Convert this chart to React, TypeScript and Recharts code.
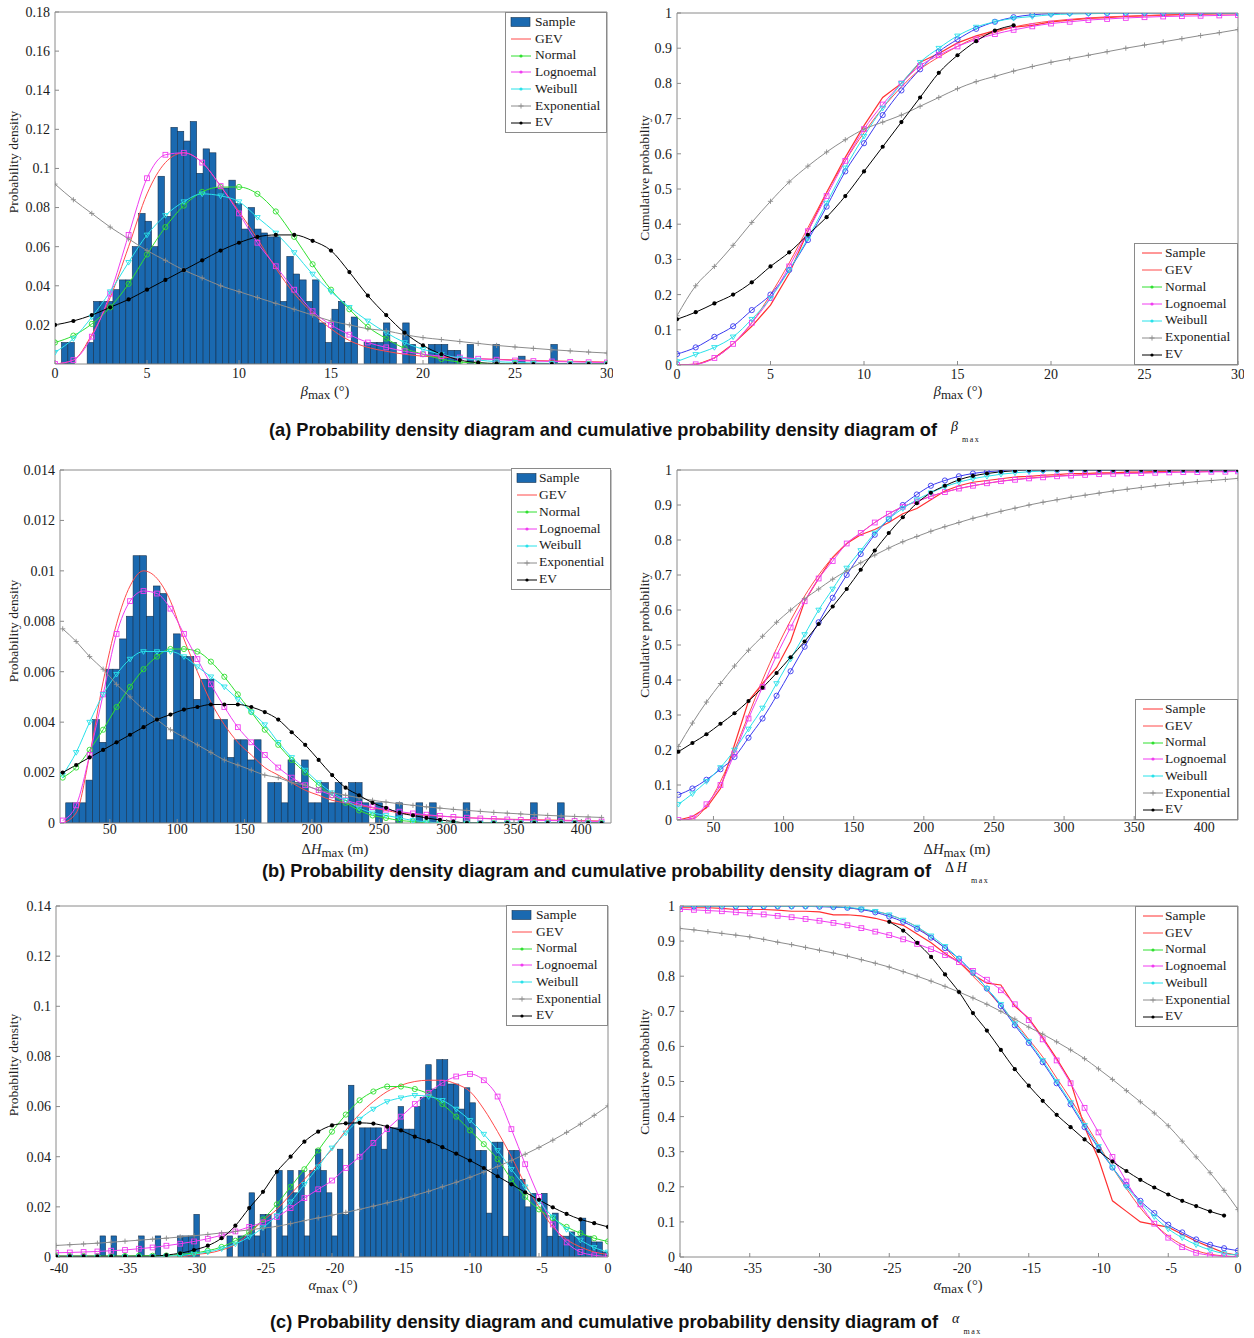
import React from 'react'
import { ComposedChart, Bar, Line, XAxis, YAxis } from 'recharts'

// ---------- (a) beta_max ----------
const aX = [0, 1, 2, 3, 4, 5, 6, 7, 8, 9, 10, 11, 12, 13, 14, 15, 16, 17, 18, 19, 20, 21, 22, 23, 24, 25, 26, 27, 28, 29, 30]
const aHistStart = 0
const aHistWidth = 0.35
const aHist = [
  0, 0.011, 0.011, 0, 0, 0.011, 0.032, 0.032, 0.032, 0.038,
  0.043, 0.043, 0.06, 0.077, 0.073, 0.06, 0.096, 0.0755, 0.121, 0.119,
  0.114, 0.124, 0.0975, 0.11, 0.108, 0.09, 0.09, 0.094, 0.082, 0.069,
  0.08, 0.069, 0.067, 0.065, 0.065, 0.032, 0.055, 0.046, 0.043, 0.032,
  0.043, 0.021, 0.011, 0.028, 0.032, 0.011, 0.024, 0, 0.011, 0.011,
  0.011, 0.021, 0.011, 0, 0.021, 0.01, 0, 0, 0.01, 0.01,
  0.01, 0.007, 0.007, 0, 0.01, 0, 0, 0, 0.01, 0,
  0, 0, 0.004, 0, 0, 0, 0, 0.01, 0, 0,
  0, 0, 0, 0, 0, 0,
]
const aGevPdf = [0, 0.002, 0.015, 0.034, 0.06, 0.087, 0.103, 0.108, 0.103, 0.091, 0.078, 0.064, 0.049, 0.036, 0.026, 0.018, 0.012, 0.0085, 0.0065, 0.005, 0.004, 0.0035, 0.003, 0.0027, 0.0024, 0.0021, 0.0018, 0.0016, 0.0014, 0.0012, 0.001]
const aNormPdf = [0.011, 0.0145, 0.0205, 0.029, 0.041, 0.056, 0.07, 0.081, 0.088, 0.0905, 0.0905, 0.087, 0.078, 0.065, 0.051, 0.038, 0.028, 0.019, 0.013, 0.008, 0.005, 0.0025, 0.001, 0.0005, 0.0002, 0.0001, 0, 0, 0, 0, 0]
const aLogPdf = [0, 0.002, 0.014, 0.036, 0.066, 0.095, 0.107, 0.108, 0.103, 0.091, 0.077, 0.062, 0.05, 0.038, 0.027, 0.02, 0.015, 0.011, 0.0085, 0.0065, 0.005, 0.004, 0.0033, 0.0027, 0.0022, 0.0018, 0.0015, 0.0013, 0.0011, 0.0009, 0.0008]
const aWeiPdf = [0.006, 0.013, 0.024, 0.037, 0.052, 0.066, 0.076, 0.083, 0.087, 0.086, 0.083, 0.075, 0.067, 0.057, 0.046, 0.037, 0.029, 0.022, 0.016, 0.011, 0.0075, 0.005, 0.003, 0.002, 0.0012, 0.0008, 0.0005, 0.0003, 0.0002, 0.0001, 0.0001]
const aExpPdf = [0.092, 0.084, 0.077, 0.07, 0.064, 0.058, 0.053, 0.048, 0.044, 0.04, 0.037, 0.034, 0.031, 0.028, 0.025, 0.022, 0.02, 0.018, 0.017, 0.015, 0.0135, 0.0125, 0.0115, 0.0105, 0.0095, 0.0087, 0.008, 0.0073, 0.0067, 0.0061, 0.0056]
const aEvPdf = [0.02, 0.022, 0.025, 0.029, 0.033, 0.038, 0.043, 0.048, 0.053, 0.058, 0.062, 0.065, 0.066, 0.066, 0.063, 0.058, 0.047, 0.035, 0.025, 0.016, 0.0095, 0.005, 0.002, 0.0007, 0.0002, 0, 0, 0, 0, 0, 0]

const aSampleCdf = [0, 0, 0.02, 0.06, 0.11, 0.17, 0.26, 0.38, 0.49, 0.59, 0.68, 0.76, 0.8, 0.86, 0.885, 0.915, 0.935, 0.95, 0.96, 0.965, 0.975, 0.98, 0.985, 0.987, 0.99, 0.992, 0.994, 0.996, 0.998, 0.999, 1]
const aGevCdf = [0, 0.003, 0.02, 0.06, 0.12, 0.2, 0.29, 0.39, 0.49, 0.58, 0.66, 0.73, 0.79, 0.84, 0.875, 0.905, 0.93, 0.945, 0.96, 0.97, 0.977, 0.982, 0.986, 0.989, 0.991, 0.993, 0.994, 0.995, 0.996, 0.997, 0.997]
const aNormCdf = [0.031, 0.05, 0.08, 0.11, 0.156, 0.2, 0.27, 0.355, 0.45, 0.55, 0.63, 0.71, 0.78, 0.84, 0.89, 0.925, 0.955, 0.975, 0.988, 0.995, 0.998, 1, 1, 1, 1, 1, 1, 1, 1, 1, 1]
const aLogCdf = [0, 0.002, 0.02, 0.06, 0.12, 0.19, 0.28, 0.38, 0.48, 0.58, 0.67, 0.74, 0.8, 0.85, 0.88, 0.905, 0.925, 0.94, 0.952, 0.962, 0.97, 0.975, 0.98, 0.983, 0.986, 0.988, 0.99, 0.991, 0.992, 0.993, 0.994]
const aWeiCdf = [0.01, 0.03, 0.05, 0.08, 0.13, 0.19, 0.27, 0.36, 0.46, 0.56, 0.65, 0.73, 0.8, 0.86, 0.9, 0.935, 0.96, 0.975, 0.985, 0.99, 0.995, 0.997, 0.998, 0.999, 1, 1, 1, 1, 1, 1, 1]
const aExpCdf = [0.14, 0.225, 0.28, 0.34, 0.405, 0.465, 0.52, 0.565, 0.605, 0.64, 0.67, 0.69, 0.71, 0.735, 0.76, 0.785, 0.805, 0.82, 0.835, 0.848, 0.86, 0.87, 0.88, 0.89, 0.9, 0.909, 0.918, 0.927, 0.936, 0.944, 0.953]
const aEvCdf = [0.13, 0.15, 0.175, 0.2, 0.235, 0.28, 0.32, 0.37, 0.42, 0.48, 0.55, 0.62, 0.69, 0.76, 0.83, 0.88, 0.92, 0.95, 0.965, null, null, null, null, null, null, null, null, null, null, null, null]

// ---------- (b) delta H_max ----------
const bX = [15, 25, 35, 45, 55, 65, 75, 85, 95, 105, 115, 125, 135, 145, 155, 165, 175, 185, 195, 205, 215, 225, 235, 245, 255, 265, 275, 285, 295, 305, 315, 325, 335, 345, 355, 365, 375, 385, 395, 405, 415]
const bHistStart = 17.5
const bHistWidth = 5
const bHist = [
  0.0008, 0.0008, 0.0008, 0.0017, 0.0041, 0.0032, 0.0061, 0.0061, 0.0073, 0.0082,
  0.0106, 0.0106, 0.0082, 0.0094, 0.0091, 0.0033, 0.0075, 0.0066, 0.0066, 0.0049,
  0.0057, 0.0057, 0.0041, 0.0041, 0.0026, 0.0033, 0.0033, 0.0025, 0.0033, 0,
  0.0016, 0.0016, 0.0008, 0.0025, 0.0016, 0.0025, 0.0008, 0.0008, 0.0016, 0.0008,
  0.0016, 0.0008, 0.0016, 0.0016, 0.0008, 0, 0.0008, 0, 0, 0.0008,
  0, 0, 0.0008, 0, 0.0008, 0, 0, 0, 0, 0.0008,
  0, 0, 0, 0, 0, 0, 0, 0, 0, 0.0008,
  0, 0, 0, 0.0008, 0, 0, 0, 0, 0, 0, 0,
]
const bGevPdf = [0, 0.0004, 0.0027, 0.0056, 0.0079, 0.0094, 0.01, 0.0097, 0.0088, 0.0073, 0.006, 0.0048, 0.0039, 0.0032, 0.0027, 0.0022, 0.0019, 0.0016, 0.0013, 0.0011, 0.0009, 0.0008, 0.0007, 0.0006, 0.0005, 0.0004, 0.00035, 0.0003, 0.00027, 0.00024, 0.00021, 0.00019, 0.00017, 0.00015, 0.00014, 0.00013, 0.00012, 0.00011, 0.0001, 0.00009, 0.00008]
const bNormPdf = [0.0018, 0.0022, 0.0029, 0.0037, 0.0046, 0.0054, 0.0061, 0.0066, 0.0069, 0.0069, 0.0068, 0.0064, 0.0058, 0.0051, 0.0044, 0.0037, 0.0031, 0.0025, 0.002, 0.0015, 0.0011, 0.0008, 0.0005, 0.0003, 0.0002, 0.0001, 0.00006, 0, 0, 0, 0, 0, 0, 0, 0, 0, 0, 0, 0, 0, 0]
const bLogPdf = [0.0001, 0.0007, 0.0027, 0.0051, 0.0075, 0.0088, 0.0092, 0.0091, 0.0085, 0.0075, 0.0065, 0.0055, 0.0046, 0.0038, 0.0032, 0.0027, 0.0022, 0.0018, 0.0015, 0.0013, 0.0011, 0.0009, 0.00075, 0.00063, 0.00053, 0.00045, 0.00038, 0.00033, 0.00028, 0.00024, 0.00021, 0.00018, 0.00016, 0.00014, 0.00012, 0.00011, 0.0001, 0.00009, 0.00008, 0.00007, 0.00006]
const bWeiPdf = [0.0019, 0.0028, 0.004, 0.0051, 0.0059, 0.0065, 0.0068, 0.0068, 0.0068, 0.0066, 0.0062, 0.0058, 0.0054, 0.0049, 0.0044, 0.0039, 0.0032, 0.0026, 0.0021, 0.0016, 0.0012, 0.0009, 0.0006, 0.0004, 0.0003, 0.0002, 0.0001, 0.00005, 0, 0, 0, 0, 0, 0, 0, 0, 0, 0, 0, 0, 0]
const bExpPdf = [0.0077, 0.0072, 0.0066, 0.0061, 0.0055, 0.005, 0.0045, 0.0041, 0.0037, 0.0034, 0.0031, 0.0028, 0.0025, 0.0023, 0.0021, 0.0019, 0.0018, 0.0016, 0.0015, 0.0013, 0.0012, 0.0011, 0.001, 0.0009, 0.00083, 0.00076, 0.0007, 0.00064, 0.00059, 0.00054, 0.0005, 0.00046, 0.00042, 0.00039, 0.00036, 0.00033, 0.0003, 0.00028, 0.00026, 0.00024, 0.00022]
const bEvPdf = [0.002, 0.0023, 0.0026, 0.0029, 0.0032, 0.0035, 0.0038, 0.0041, 0.0043, 0.0045, 0.0046, 0.0047, 0.0047, 0.0047, 0.0046, 0.0044, 0.0041, 0.0036, 0.0031, 0.0025, 0.0019, 0.0014, 0.0011, 0.0008, 0.0006, 0.0004, 0.0003, 0.0002, 0.00012, 0.00006, 0, 0, 0, 0, 0, 0, 0, 0, 0, 0, 0]

const bcX = [25, 35, 45, 55, 65, 75, 85, 95, 105, 115, 125, 135, 145, 155, 165, 175, 185, 195, 205, 215, 225, 235, 245, 255, 265, 275, 285, 295, 305, 315, 325, 335, 345, 355, 365, 375, 385, 395, 405, 415, 424]
const bSampleCdf = [0, 0.01, 0.035, 0.09, 0.215, 0.34, 0.39, 0.435, 0.51, 0.625, 0.69, 0.75, 0.79, 0.815, 0.83, 0.85, 0.875, 0.89, 0.915, 0.94, 0.955, 0.965, 0.97, 0.975, 0.98, 0.982, 0.985, 0.987, 0.99, 0.99, 0.992, 0.992, 0.994, 0.994, 0.996, 0.996, 1, 1, 1, 1, 1]
const bGevCdf = [0, 0.003, 0.04, 0.11, 0.2, 0.3, 0.4, 0.49, 0.57, 0.64, 0.7, 0.75, 0.79, 0.82, 0.85, 0.875, 0.895, 0.91, 0.925, 0.937, 0.947, 0.955, 0.962, 0.968, 0.973, 0.977, 0.98, 0.983, 0.985, 0.987, 0.989, 0.99, 0.991, 0.992, 0.993, 0.994, 0.995, 0.995, 0.996, 0.996, 0.997]
const bNormCdf = [0.072, 0.09, 0.115, 0.145, 0.18, 0.235, 0.29, 0.355, 0.425, 0.495, 0.565, 0.635, 0.7, 0.76, 0.815, 0.86, 0.9, 0.93, 0.955, 0.97, 0.982, 0.99, 0.995, 0.998, 1, 1, 1, 1, 1, 1, 1, 1, 1, 1, 1, 1, 1, 1, 1, 1, 1]
const bLogCdf = [0, 0.005, 0.045, 0.1, 0.19, 0.29, 0.38, 0.47, 0.55, 0.625, 0.69, 0.74, 0.79, 0.82, 0.85, 0.875, 0.895, 0.91, 0.925, 0.937, 0.947, 0.955, 0.962, 0.968, 0.972, 0.976, 0.979, 0.982, 0.984, 0.986, 0.988, 0.989, 0.99, 0.991, 0.992, 0.993, 0.994, 0.994, 0.995, 0.995, 0.996]
const bWeiCdf = [0.045, 0.075, 0.11, 0.15, 0.2, 0.26, 0.32, 0.39, 0.46, 0.53, 0.6, 0.66, 0.72, 0.77, 0.82, 0.86, 0.89, 0.915, 0.935, 0.952, 0.965, 0.975, 0.982, 0.988, 0.992, 0.995, 0.997, 0.998, 0.999, 1, 1, 1, 1, 1, 1, 1, 1, 1, 1, 1, 1]
const bExpCdf = [0.21, 0.277, 0.337, 0.39, 0.44, 0.485, 0.525, 0.565, 0.6, 0.632, 0.66, 0.688, 0.712, 0.735, 0.757, 0.777, 0.795, 0.81, 0.825, 0.838, 0.85, 0.862, 0.872, 0.882, 0.891, 0.9, 0.908, 0.915, 0.922, 0.928, 0.934, 0.94, 0.945, 0.95, 0.955, 0.959, 0.963, 0.967, 0.97, 0.973, 0.976]
const bEvCdf = [0.195, 0.22, 0.245, 0.275, 0.305, 0.34, 0.378, 0.42, 0.465, 0.51, 0.56, 0.61, 0.66, 0.715, 0.77, 0.82, 0.865, 0.905, 0.935, 0.955, 0.972, 0.983, 0.99, 0.995, 0.998, 1, 1, 1, 1, 1, 1, 1, 1, 1, 1, 1, 1, 1, 1, 1, 1]

// ---------- (c) alpha_max ----------
const cX = [-40, -39, -38, -37, -36, -35, -34, -33, -32, -31, -30, -29, -28, -27, -26, -25, -24, -23, -22, -21, -20, -19, -18, -17, -16, -15, -14, -13, -12, -11, -10, -9, -8, -7, -6, -5, -4, -3, -2, -1, 0]
const cHistStart = -40
const cHistWidth = 0.4
const cHist = [
  0, 0, 0, 0, 0, 0, 0, 0, 0.0084, 0,
  0.0084, 0, 0, 0, 0, 0.0084, 0, 0, 0.0084, 0,
  0, 0, 0.0084, 0.0084, 0.0084, 0.017, 0, 0, 0, 0,
  0, 0.0084, 0, 0.0084, 0.0084, 0.0256, 0.0084, 0.017, 0.017, 0,
  0.0345, 0.0084, 0.0345, 0.0256, 0.0345, 0.0084, 0.0345, 0.043, 0.0345, 0.0256,
  0.0084, 0.043, 0.017, 0.0685, 0, 0.0515, 0.0515, 0.0515, 0.0515, 0.043,
  0.0515, 0.0515, 0.06, 0.051, 0.051, 0.06, 0.0636, 0.0767, 0.067, 0.0787,
  0.0787, 0.069, 0.069, 0.059, 0.0675, 0.0615, 0.0425, 0.0425, 0.0175, 0.0458,
  0.0458, 0.0083, 0.0425, 0.0425, 0.031, 0.02, 0.0254, 0, 0.0254, 0.0083,
  0.0175, 0.0083, 0.0083, 0.01, 0.0083, 0.0155, 0.0083, 0.006, 0.006, 0.002,
]
const cGevPdf = [0, 0, 0, 0, 0, 0, 0, 0, 0, 0, 0.001, 0.0015, 0.0028, 0.005, 0.0095, 0.0145, 0.019, 0.025, 0.031, 0.037, 0.043, 0.0505, 0.057, 0.062, 0.066, 0.0685, 0.07, 0.0705, 0.0705, 0.069, 0.066, 0.059, 0.05, 0.04, 0.029, 0.02, 0.012, 0.007, 0.004, 0.002, 0.001]
const cNormPdf = [0.0004, 0.0004, 0.0004, 0.0004, 0.0004, 0.0004, 0.0005, 0.0005, 0.0006, 0.001, 0.0016, 0.0025, 0.004, 0.0065, 0.01, 0.015, 0.021, 0.028, 0.035, 0.0425, 0.05, 0.0568, 0.0625, 0.066, 0.068, 0.068, 0.067, 0.065, 0.061, 0.056, 0.0505, 0.045, 0.039, 0.031, 0.024, 0.019, 0.0155, 0.012, 0.0095, 0.0075, 0.0062]
const cLogPdf = [0.0017, 0.0018, 0.002, 0.0022, 0.0025, 0.0028, 0.0033, 0.0038, 0.0045, 0.0053, 0.0062, 0.0073, 0.0087, 0.0102, 0.012, 0.0138, 0.016, 0.0195, 0.0235, 0.027, 0.0305, 0.0355, 0.04, 0.0455, 0.051, 0.056, 0.061, 0.0655, 0.0695, 0.072, 0.073, 0.0705, 0.064, 0.051, 0.037, 0.024, 0.013, 0.0058, 0.002, 0.0007, 0.0002]
const cWeiPdf = [0, 0, 0, 0, 0, 0.0001, 0.0001, 0.0002, 0.0003, 0.0006, 0.0012, 0.002, 0.0033, 0.0052, 0.008, 0.0117, 0.0165, 0.022, 0.029, 0.036, 0.0435, 0.0495, 0.055, 0.059, 0.062, 0.0635, 0.0645, 0.064, 0.0625, 0.059, 0.0545, 0.049, 0.0425, 0.035, 0.028, 0.022, 0.016, 0.011, 0.0068, 0.0038, 0.002]
const cExpPdf = [0.0046, 0.0049, 0.0052, 0.0055, 0.0059, 0.0063, 0.0067, 0.0071, 0.0075, 0.008, 0.0085, 0.009, 0.0096, 0.0102, 0.0108, 0.0115, 0.0122, 0.0133, 0.0145, 0.0156, 0.0167, 0.0178, 0.019, 0.0203, 0.0216, 0.023, 0.0246, 0.0262, 0.028, 0.0298, 0.0318, 0.0339, 0.0361, 0.0385, 0.041, 0.0437, 0.0466, 0.0497, 0.053, 0.0565, 0.0603]
const cEvPdf = [0.0003, 0.0003, 0.0003, 0.0003, 0.0003, 0.0003, 0.0003, 0.0003, 0.0008, 0.0015, 0.0028, 0.0045, 0.0075, 0.0125, 0.0195, 0.026, 0.034, 0.04, 0.046, 0.05, 0.0525, 0.0533, 0.0535, 0.0532, 0.052, 0.0505, 0.048, 0.0462, 0.0438, 0.0412, 0.0385, 0.0355, 0.0322, 0.029, 0.0258, 0.0228, 0.0198, 0.0172, 0.015, 0.0135, 0.012]

const cSampleCdf = [0.995, 0.995, 0.995, 0.993, 0.99, 0.99, 0.99, 0.988, 0.985, 0.985, 0.983, 0.975, 0.975, 0.972, 0.965, 0.955, 0.945, 0.92, 0.895, 0.865, 0.84, 0.805, 0.78, 0.775, 0.715, 0.68, 0.625, 0.565, 0.5, 0.37, 0.28, 0.16, 0.13, 0.1, 0.092, 0.085, 0.065, 0.045, 0.028, 0.012, 0.005]
const cGevCdf = [0.999, 0.999, 0.999, 0.999, 0.999, 0.999, 0.999, 0.999, 0.999, 0.999, 0.999, 0.998, 0.995, 0.99, 0.985, 0.975, 0.96, 0.94, 0.91, 0.88, 0.84, 0.8, 0.76, 0.715, 0.67, 0.62, 0.57, 0.51, 0.45, 0.385, 0.32, 0.255, 0.195, 0.14, 0.095, 0.06, 0.035, 0.018, 0.008, 0.003, 0.001]
const cNormCdf = [0.999, 0.999, 0.999, 0.999, 0.999, 0.999, 0.999, 0.999, 0.999, 0.999, 0.998, 0.997, 0.995, 0.99, 0.982, 0.97, 0.955, 0.935, 0.91, 0.88, 0.85, 0.81, 0.765, 0.715, 0.66, 0.61, 0.555, 0.495, 0.435, 0.37, 0.31, 0.255, 0.205, 0.16, 0.125, 0.092, 0.07, 0.05, 0.035, 0.025, 0.018]
const cLogCdf = [0.991, 0.989, 0.987, 0.985, 0.982, 0.979, 0.976, 0.972, 0.968, 0.963, 0.958, 0.952, 0.945, 0.937, 0.927, 0.917, 0.905, 0.892, 0.877, 0.86, 0.84, 0.815, 0.79, 0.76, 0.72, 0.675, 0.62, 0.56, 0.495, 0.425, 0.355, 0.285, 0.215, 0.15, 0.095, 0.055, 0.028, 0.012, 0.005, 0.002, 0.001]
const cWeiCdf = [0.999, 0.999, 0.999, 0.999, 0.999, 0.999, 0.999, 0.999, 0.999, 0.999, 0.999, 0.998, 0.996, 0.992, 0.985, 0.975, 0.96, 0.94, 0.915, 0.885, 0.85, 0.81, 0.765, 0.72, 0.665, 0.615, 0.56, 0.5, 0.44, 0.375, 0.315, 0.255, 0.2, 0.155, 0.115, 0.08, 0.055, 0.035, 0.02, 0.01, 0.005]
const cExpCdf = [0.936, 0.932, 0.927, 0.922, 0.917, 0.912, 0.905, 0.897, 0.89, 0.882, 0.874, 0.866, 0.857, 0.847, 0.837, 0.826, 0.813, 0.8, 0.786, 0.771, 0.755, 0.738, 0.72, 0.7, 0.678, 0.655, 0.635, 0.613, 0.59, 0.565, 0.536, 0.506, 0.474, 0.442, 0.41, 0.374, 0.33, 0.285, 0.24, 0.19, 0.135]
const cEvCdf = [null, null, null, null, null, null, null, null, null, null, null, null, null, null, null, 0.955, 0.93, 0.895, 0.855, 0.805, 0.755, 0.695, 0.645, 0.59, 0.535, 0.488, 0.445, 0.405, 0.37, 0.335, 0.302, 0.272, 0.245, 0.22, 0.198, 0.178, 0.16, 0.145, 0.13, 0.118, null]

// ---------- styling ----------
const SERIF = '"Liberation Serif", "Times New Roman", Times, serif'
const SANS = '"Liberation Sans", Arial, Helvetica, sans-serif'
const AXIS = '#8a8a8a'
const TICK_FONT = 14
const C = {
  bar: '#1a69b0',
  barEdge: '#16324f',
  sample: '#ff3030',
  gev: '#ff4a4a',
  normal: '#30e030',
  normalCdf: '#3a3af0',
  logn: '#f03cf0',
  weib: '#28e2ea',
  expo: '#8c8c8c',
  ev: '#000000',
}

type Marker = 'none' | 'circle' | 'square' | 'triangle' | 'plus' | 'dot'
type Series = { id: string; xs: number[]; ys: (number | null)[]; color: string; marker: Marker; width?: number; curve?: 'monotone' | 'linear' }
type Box = { left: number; top: number; right: number; bottom: number }
type Bins = { start: number; width: number; heights: number[] }

function drawMarker(marker: Marker, color: string, cx: number, cy: number, key?: React.Key) {
  switch (marker) {
    case 'circle':
      return <circle key={key} cx={cx} cy={cy} r={2.6} fill="none" stroke={color} strokeWidth={0.9} />
    case 'square':
      return <rect key={key} x={cx - 2.4} y={cy - 2.4} width={4.8} height={4.8} fill="none" stroke={color} strokeWidth={0.9} />
    case 'triangle':
      return <path key={key} d={`M${cx - 2.8},${cy - 1.8}L${cx + 2.8},${cy - 1.8}L${cx},${cy + 2.8}Z`} fill="none" stroke={color} strokeWidth={0.9} />
    case 'plus':
      return <path key={key} d={`M${cx - 2.6},${cy}H${cx + 2.6}M${cx},${cy - 2.6}V${cy + 2.6}`} stroke={color} strokeWidth={0.9} />
    case 'dot':
      return <circle key={key} cx={cx} cy={cy} r={2.1} fill={color} />
    default:
      return null
  }
}

const dotFn = (marker: Marker, color: string) => {
  if (marker === 'none') return false
  return (p: any) => {
    if (p.cx == null || p.cy == null || p.value == null || Number.isNaN(p.cy)) return <g key={p.index} />
    return drawMarker(marker, color, p.cx, p.cy, p.index)
  }
}

const barShape = (w: number) => (p: any) => {
  const { x, y, width, height } = p
  if (!height || height <= 0) return <g />
  const cx = x + width / 2
  return <rect x={cx - w / 2} y={y} width={w} height={height} fill={C.bar} stroke={C.barEdge} strokeWidth={0.6} />
}

// serif tick labels like the MATLAB figure; negative numbers are centred on their digits
const XTick = (p: any) => (
  <text x={p.x + (p.payload.value < 0 ? 3 : 0)} y={p.y} dy="0.71em" textAnchor="middle" fontFamily={SERIF} fontSize={TICK_FONT} fill="#1a1a1a">
    {String(p.payload.value)}
  </text>
)
const YTick = (p: any) => (
  <text x={p.x} y={p.y} dy="0.35em" textAnchor="end" fontFamily={SERIF} fontSize={TICK_FONT} fill="#1a1a1a">
    {String(p.payload.value)}
  </text>
)

function Plot({ box, xDomain, xTicks, yDomain, yTicks, bins, series, xTickMargin = 8 }: {
  box: Box; xDomain: [number, number]; xTicks: number[]; yDomain: [number, number]; yTicks: number[]; bins?: Bins; series: Series[]; xTickMargin?: number
}) {
  const YW = 50
  const XH = 30
  const M = 6
  const plotW = box.right - box.left
  const plotH = box.bottom - box.top
  const barData = bins ? bins.heights.map((h, i) => ({ x: bins.start + (i + 0.5) * bins.width, y: h })) : undefined
  const barW = bins ? (bins.width * plotW) / (xDomain[1] - xDomain[0]) : 0
  return (
    <div style={{ position: 'absolute', left: box.left - YW, top: box.top - M, fontFamily: SERIF }}>
      <ComposedChart width={plotW + YW + M} height={plotH + M + XH} data={barData} margin={{ top: M, right: M, bottom: 0, left: 0 }}>
        <XAxis dataKey="x" type="number" domain={xDomain} ticks={xTicks} allowDataOverflow interval={0} height={XH}
          tickSize={-4} tickMargin={xTickMargin} stroke={AXIS} tick={XTick} />
        <XAxis xAxisId="top" orientation="top" mirror type="number" domain={xDomain} ticks={xTicks} allowDataOverflow
          interval={0} tick={false} tickSize={4} stroke={AXIS} />
        <YAxis type="number" domain={yDomain} ticks={yTicks} allowDataOverflow interval={0} width={YW}
          tickSize={-4} tickMargin={9} stroke={AXIS} tick={YTick} />
        <YAxis yAxisId="right" orientation="right" mirror type="number" domain={yDomain} ticks={yTicks} allowDataOverflow
          interval={0} tick={false} tickSize={4} stroke={AXIS} />
        {bins && (
          <Bar dataKey="y" isAnimationActive={false} barSize={Math.max(1, barW)} shape={barShape(barW)} />
        )}
        {series.map((s) => (
          <Line
            key={s.id}
            data={s.xs.map((x, i) => ({ x, y: s.ys[i] }))}
            dataKey="y"
            type={s.curve ?? 'monotone'}
            stroke={s.color}
            strokeWidth={s.width ?? 1}
            dot={dotFn(s.marker, s.color)}
            activeDot={false}
            isAnimationActive={false}
          />
        ))}
      </ComposedChart>
    </div>
  )
}

type LegendItem = { label: string; color: string; marker: Marker; patch?: boolean }

const pdfLegend: LegendItem[] = [
  { label: 'Sample', color: C.bar, marker: 'none', patch: true },
  { label: 'GEV', color: C.gev, marker: 'none' },
  { label: 'Normal', color: C.normal, marker: 'dot' },
  { label: 'Lognoemal', color: C.logn, marker: 'dot' },
  { label: 'Weibull', color: C.weib, marker: 'dot' },
  { label: 'Exponential', color: C.expo, marker: 'plus' },
  { label: 'EV', color: C.ev, marker: 'dot' },
]
const cdfLegend: LegendItem[] = [
  { label: 'Sample', color: C.sample, marker: 'none' },
  { label: 'GEV', color: C.gev, marker: 'none' },
  { label: 'Normal', color: C.normal, marker: 'dot' },
  { label: 'Lognoemal', color: C.logn, marker: 'dot' },
  { label: 'Weibull', color: C.weib, marker: 'dot' },
  { label: 'Exponential', color: C.expo, marker: 'plus' },
  { label: 'EV', color: C.ev, marker: 'dot' },
]

function LegendBox({ left, top, width, height, items, iconLeft, textLeft }: {
  left: number; top: number; width: number; height: number; items: LegendItem[]; iconLeft: number; textLeft: number
}) {
  const rowH = (height - 4) / items.length
  return (
    <div style={{ position: 'absolute', left, top, width, height, border: `1px solid ${AXIS}`, background: '#fff', boxSizing: 'border-box' }}>
      {items.map((it, i) => (
        <div key={it.label} style={{ position: 'absolute', left: 0, top: 1 + i * rowH, height: rowH, width: '100%' }}>
          <svg style={{ position: 'absolute', left: iconLeft, top: rowH / 2 - 6 }} width={22} height={12}>
            {it.patch ? (
              <rect x={1} y={1.5} width={19} height={9} fill={C.bar} stroke={C.barEdge} strokeWidth={0.6} />
            ) : (
              <>
                <line x1={1} x2={21} y1={6} y2={6} stroke={it.color} strokeWidth={1} />
                {it.marker === 'dot' ? <circle cx={11} cy={6} r={1.6} fill={it.color} /> : drawMarker(it.marker, it.color, 11, 6)}
              </>
            )}
          </svg>
          <span style={{ position: 'absolute', left: textLeft, top: 0, lineHeight: `${rowH}px`, fontFamily: SERIF, fontSize: 13.5, color: '#1a1a1a', whiteSpace: 'nowrap' }}>
            {it.label}
          </span>
        </div>
      ))}
    </div>
  )
}

function XLabel({ cx, cy, prefix, sym, unit }: { cx: number; cy: number; prefix?: string; sym: string; unit: string }) {
  return (
    <div style={{ position: 'absolute', left: cx - 80, top: cy - 9, width: 160, height: 18, lineHeight: '18px', textAlign: 'center', fontFamily: SERIF, fontSize: 14.5, color: '#222', whiteSpace: 'nowrap' }}>
      {prefix}<i>{sym}</i><span style={{ fontSize: 13, position: 'relative', top: 3 }}>max</span> {unit}
    </div>
  )
}

function YLabel({ cx, cy, text }: { cx: number; cy: number; text: string }) {
  return (
    <div style={{ position: 'absolute', left: cx - 90, top: cy - 9, width: 180, height: 18, lineHeight: '18px', textAlign: 'center', transform: 'rotate(-90deg)', fontFamily: SERIF, fontSize: 13.5, color: '#222', whiteSpace: 'nowrap' }}>
      {text}
    </div>
  )
}

function Caption({ left, top, tag, prefix, sym }: { left: number; top: number; tag: string; prefix?: string; sym: string }) {
  return (
    <div style={{ position: 'absolute', left, top, fontFamily: SANS, fontWeight: 'bold', fontSize: 18.2, color: '#111', whiteSpace: 'nowrap' }}>
      ({tag}) Probability density diagram and cumulative probability density diagram of
      <span style={{ fontFamily: SERIF, fontWeight: 'normal', fontSize: 14, marginLeft: 14, position: 'relative', top: -5 }}>
        {prefix}<i>{sym}</i>
      </span>
      <span style={{ fontFamily: SERIF, fontWeight: 'normal', fontSize: 8, letterSpacing: 1.5, marginLeft: 4, position: 'relative', top: 6 }}>max</span>
    </div>
  )
}

const pdfSeries = (xs: number[], gev: number[], norm: number[], logn: number[], weib: number[], expo: number[], ev: number[]): Series[] => [
  { id: 'gev', xs, ys: gev, color: C.gev, marker: 'none', width: 1 },
  { id: 'norm', xs, ys: norm, color: C.normal, marker: 'circle' },
  { id: 'logn', xs, ys: logn, color: C.logn, marker: 'square' },
  { id: 'weib', xs, ys: weib, color: C.weib, marker: 'triangle' },
  { id: 'expo', xs, ys: expo, color: C.expo, marker: 'plus' },
  { id: 'ev', xs, ys: ev, color: C.ev, marker: 'dot' },
]

const cdfSeries = (xs: number[], sample: number[], gev: number[], norm: number[], logn: number[], weib: number[], expo: number[], ev: (number | null)[]): Series[] => [
  { id: 'sample', xs, ys: sample, color: C.sample, marker: 'none', width: 1.2, curve: 'linear' },
  { id: 'gev', xs, ys: gev, color: C.gev, marker: 'none', width: 1 },
  { id: 'norm', xs, ys: norm, color: C.normalCdf, marker: 'circle' },
  { id: 'logn', xs, ys: logn, color: C.logn, marker: 'square' },
  { id: 'weib', xs, ys: weib, color: C.weib, marker: 'triangle' },
  { id: 'expo', xs, ys: expo, color: C.expo, marker: 'plus' },
  { id: 'ev', xs, ys: ev, color: C.ev, marker: 'dot' },
]

const cdfTicks = [0, 0.1, 0.2, 0.3, 0.4, 0.5, 0.6, 0.7, 0.8, 0.9, 1]

export default function App() {
  return (
    <div style={{ position: 'absolute', left: 0, top: 0, width: 1254, height: 1338, background: '#fff', overflow: 'hidden' }}>
      {/* row (a) */}
      <Plot box={{ left: 55, top: 12, right: 607, bottom: 364 }} xDomain={[0, 30]} xTicks={[0, 5, 10, 15, 20, 25, 30]}
        yDomain={[0, 0.18]} yTicks={[0.02, 0.04, 0.06, 0.08, 0.1, 0.12, 0.14, 0.16, 0.18]}
        bins={{ start: aHistStart, width: aHistWidth, heights: aHist }}
        series={pdfSeries(aX, aGevPdf, aNormPdf, aLogPdf, aWeiPdf, aExpPdf, aEvPdf)} />
      <Plot box={{ left: 677, top: 13, right: 1238, bottom: 365 }} xDomain={[0, 30]} xTicks={[0, 5, 10, 15, 20, 25, 30]}
        yDomain={[0, 1]} yTicks={cdfTicks}
        series={cdfSeries(aX, aSampleCdf, aGevCdf, aNormCdf, aLogCdf, aWeiCdf, aExpCdf, aEvCdf)} />
      <LegendBox left={505} top={12} width={102} height={121} items={pdfLegend} iconLeft={4} textLeft={29} />
      <LegendBox left={1134} top={243} width={104} height={122} items={cdfLegend} iconLeft={6} textLeft={30} />
      <YLabel cx={14} cy={162} text="Probability density" />
      <YLabel cx={645} cy={178} text="Cumulative probability" />
      <XLabel cx={325} cy={391} sym="β" unit="(°)" />
      <XLabel cx={958} cy={391} sym="β" unit="(°)" />
      <Caption left={269} top={420} tag="a" sym="β" />

      {/* row (b) */}
      <Plot box={{ left: 60, top: 470, right: 611, bottom: 823 }} xDomain={[13, 422]} xTicks={[50, 100, 150, 200, 250, 300, 350, 400]}
        yDomain={[0, 0.014]} yTicks={[0, 0.002, 0.004, 0.006, 0.008, 0.01, 0.012, 0.014]}
        bins={{ start: bHistStart, width: bHistWidth, heights: bHist }} xTickMargin={5}
        series={pdfSeries(bX, bGevPdf, bNormPdf, bLogPdf, bWeiPdf, bExpPdf, bEvPdf)} />
      <Plot box={{ left: 677, top: 470, right: 1238, bottom: 820 }} xDomain={[24, 424]} xTicks={[50, 100, 150, 200, 250, 300, 350, 400]}
        yDomain={[0, 1]} yTicks={cdfTicks} xTickMargin={6}
        series={cdfSeries(bcX, bSampleCdf, bGevCdf, bNormCdf, bLogCdf, bWeiCdf, bExpCdf, bEvCdf)} />
      <LegendBox left={511} top={468} width={100} height={122} items={pdfLegend} iconLeft={4} textLeft={27} />
      <LegendBox left={1135} top={699} width={103} height={121} items={cdfLegend} iconLeft={6} textLeft={29} />
      <YLabel cx={14} cy={631} text="Probability density" />
      <YLabel cx={645} cy={635} text="Cumulative probability" />
      <XLabel cx={335} cy={849} prefix="Δ" sym="H" unit="(m)" />
      <XLabel cx={957} cy={849} prefix="Δ" sym="H" unit="(m)" />
      <Caption left={262} top={861} tag="b" prefix="Δ " sym="H" />

      {/* row (c) */}
      <Plot box={{ left: 56, top: 906, right: 608, bottom: 1257 }} xDomain={[-40, 0]} xTicks={[-40, -35, -30, -25, -20, -15, -10, -5, 0]}
        yDomain={[0, 0.14]} yTicks={[0, 0.02, 0.04, 0.06, 0.08, 0.1, 0.12, 0.14]}
        bins={{ start: cHistStart, width: cHistWidth, heights: cHist }} xTickMargin={10}
        series={pdfSeries(cX, cGevPdf, cNormPdf, cLogPdf, cWeiPdf, cExpPdf, cEvPdf)} />
      <Plot box={{ left: 680, top: 906, right: 1238, bottom: 1257 }} xDomain={[-40, 0]} xTicks={[-40, -35, -30, -25, -20, -15, -10, -5, 0]}
        yDomain={[0, 1]} yTicks={cdfTicks} xTickMargin={10}
        series={cdfSeries(cX, cSampleCdf, cGevCdf, cNormCdf, cLogCdf, cWeiCdf, cExpCdf, cEvCdf)} />
      <LegendBox left={506} top={905} width={102} height={121} items={pdfLegend} iconLeft={4} textLeft={29} />
      <LegendBox left={1135} top={906} width={103} height={121} items={cdfLegend} iconLeft={6} textLeft={29} />
      <YLabel cx={14} cy={1065} text="Probability density" />
      <YLabel cx={645} cy={1072} text="Cumulative probability" />
      <XLabel cx={333} cy={1285} sym="α" unit="(°)" />
      <XLabel cx={958} cy={1285} sym="α" unit="(°)" />
      <Caption left={270} top={1312} tag="c" sym="α" />
    </div>
  )
}
